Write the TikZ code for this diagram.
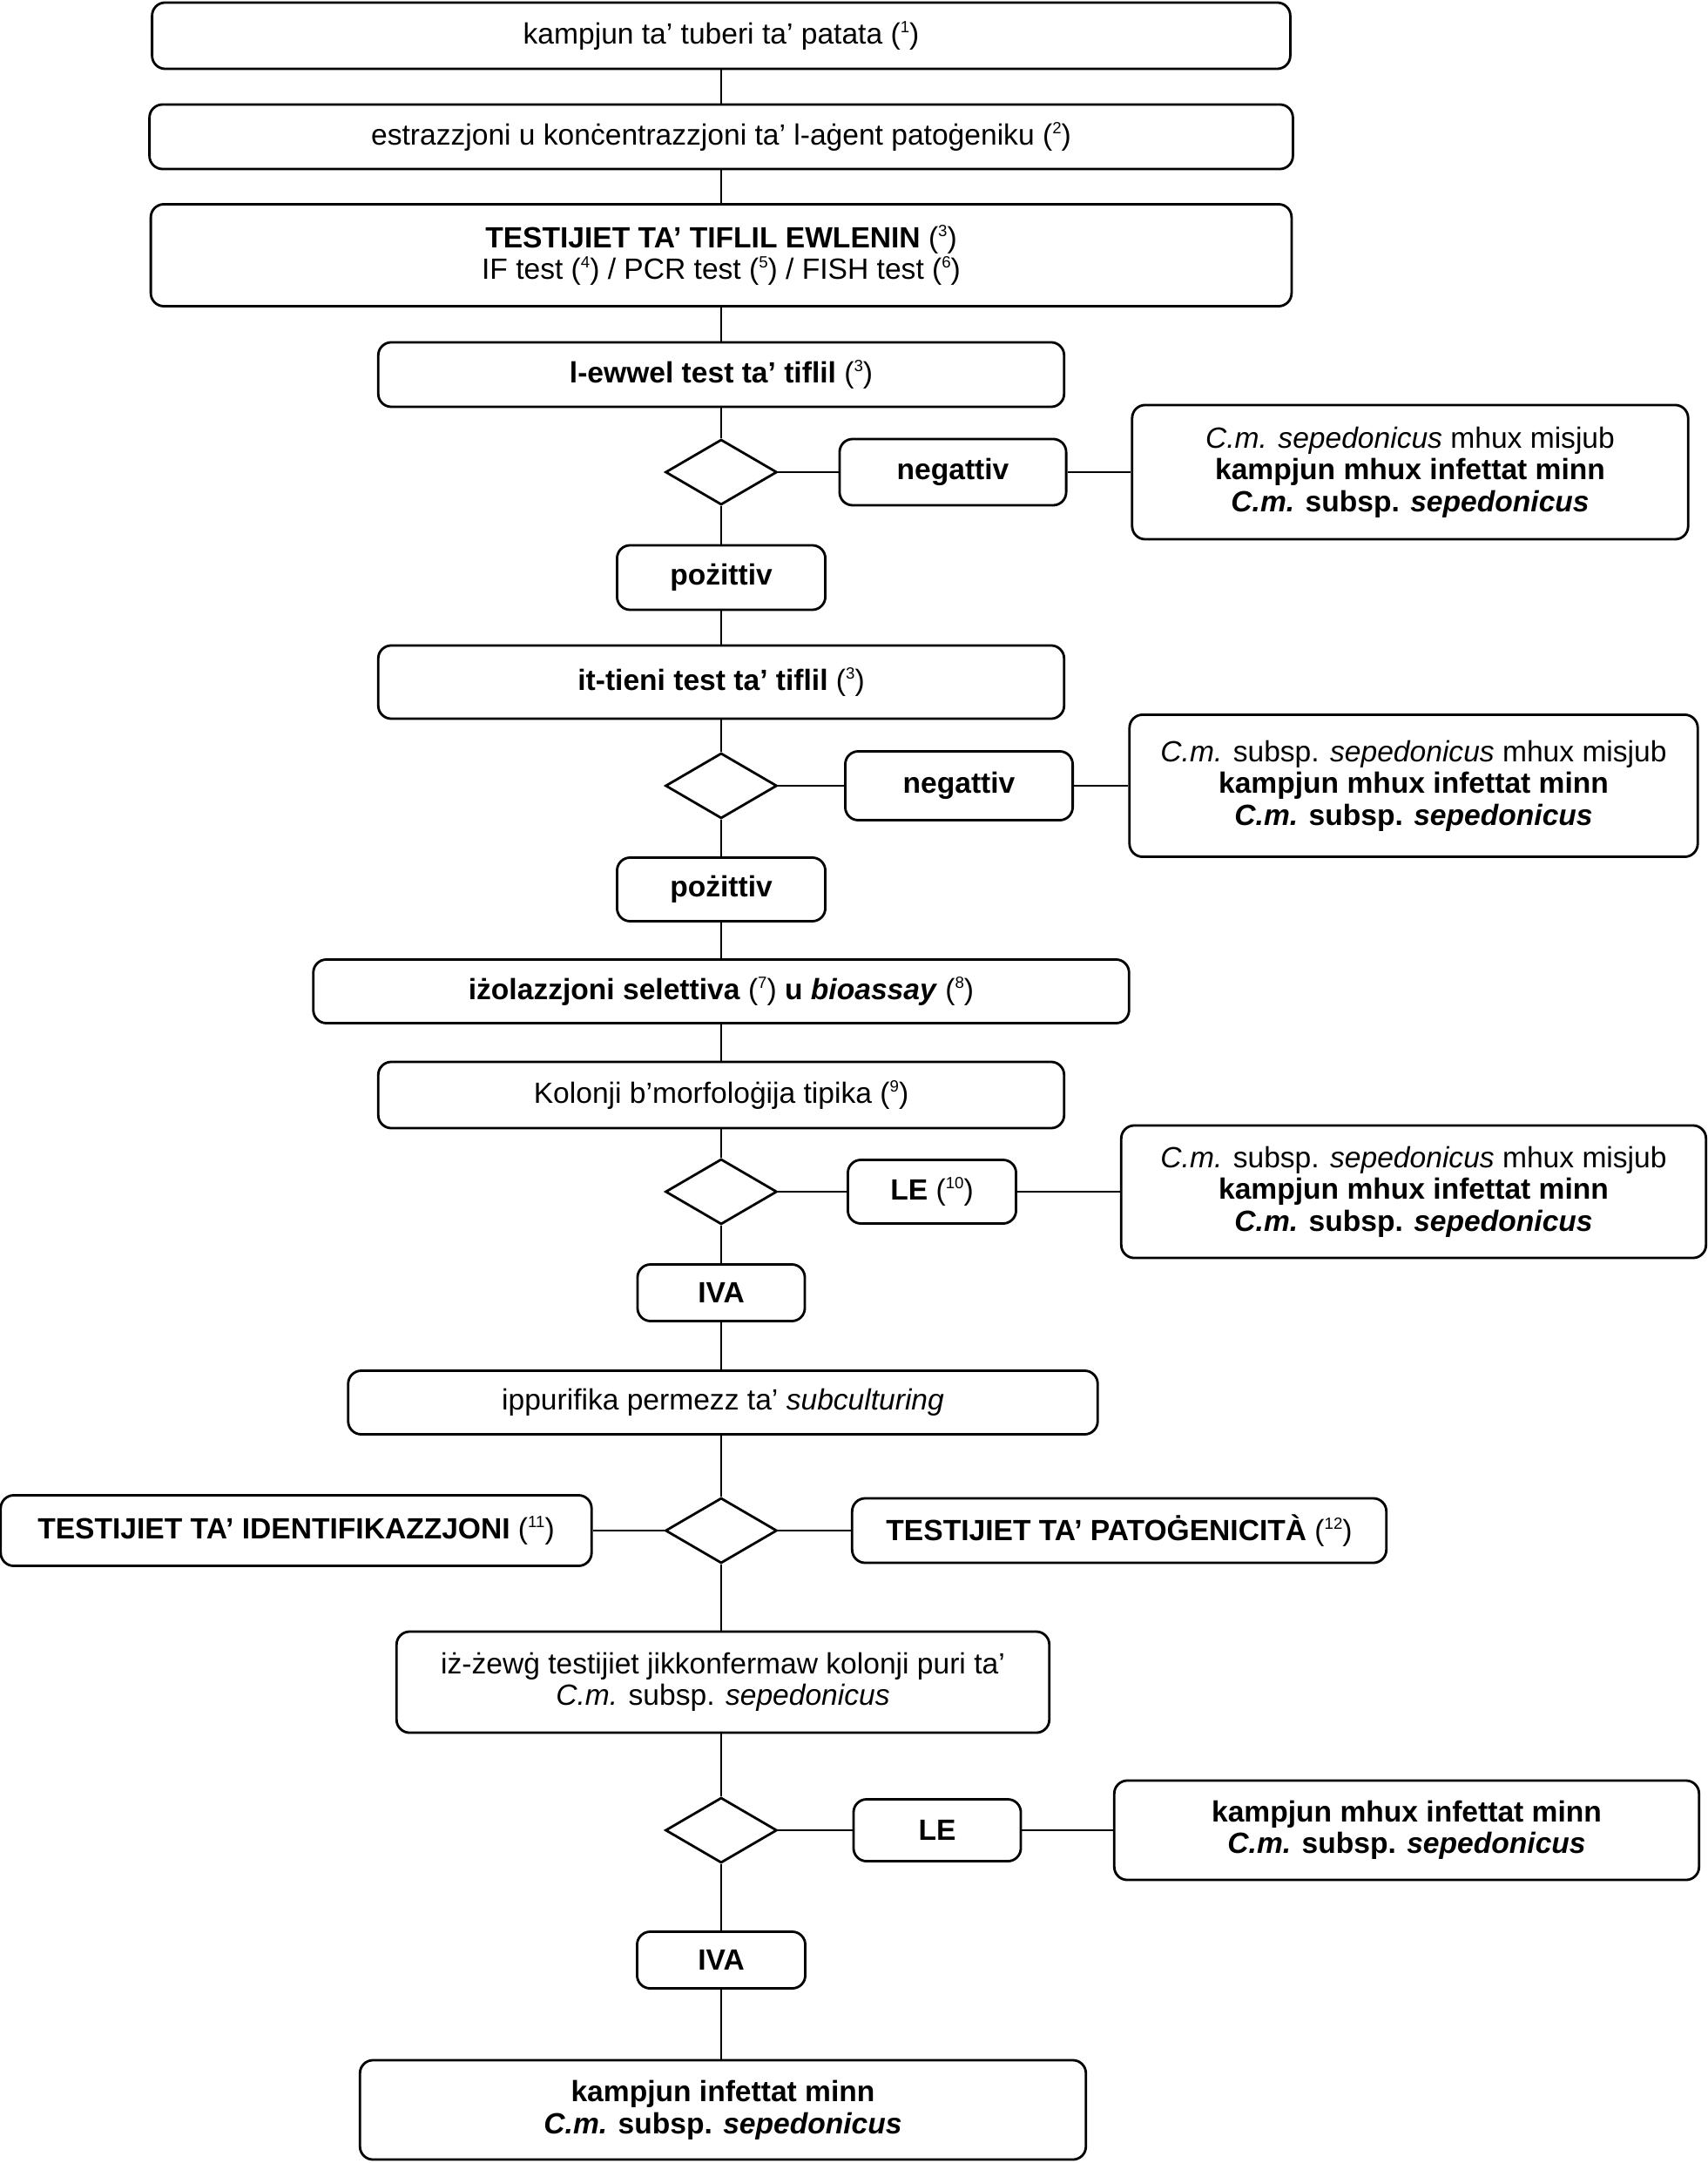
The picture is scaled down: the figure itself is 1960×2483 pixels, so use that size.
\documentclass[tikz,border=0pt]{standalone}
\usepackage{fontspec}
\setmainfont{Liberation Sans}
\usepackage{tikz}
\usetikzlibrary{shapes.geometric}
\newcommand{\boxfont}{\fontsize{9.55}{10.4}\selectfont}
\newcommand{\fn}[1]{(\raisebox{0.75ex}{\fontsize{5.3}{6}\selectfont\mdseries\upshape #1})}

\begin{document}
\begin{tikzpicture}[x=0.01cm, y=-0.01cm,
  flowbox/.style={draw, rectangle, rounded corners=0.15cm, line width=0.8pt, align=center, font=\boxfont, inner sep=2pt},
  decision/.style={draw, diamond, aspect=1.7, minimum width=1.28cm, minimum height=0.75cm, inner sep=0pt, line width=0.8pt},
  link/.style={line width=0.6pt}
]
\useasboundingbox (0,0) rectangle (1960,2483);
\node[flowbox, minimum width=13.06cm, minimum height=0.76cm] (sample) at (828,41) {kampjun ta’ tuberi ta’ patata \fn{1}};
\node[flowbox, minimum width=13.12cm, minimum height=0.74cm] (extract) at (828,157) {estrazzjoni u konċentrazzjoni ta’ l-aġent patoġeniku \fn{2}};
\node[flowbox, minimum width=13.09cm, minimum height=1.17cm] (screen) at (828,293) {\textbf{TESTIJIET TA’ TIFLIL EWLENIN} \fn{3}\\IF test \fn{4} / PCR test \fn{5} / FISH test \fn{6}};
\node[flowbox, minimum width=7.87cm, minimum height=0.74cm] (firsttest) at (828,430) {\textbf{l-ewwel test ta’ tiflil} \fn{3}};
\node[decision] (dec1) at (828,542) {};
\node[flowbox, minimum width=2.60cm, minimum height=0.76cm] (neg1) at (1094,542) {\textbf{negattiv}};
\node[flowbox, minimum width=6.38cm, minimum height=1.54cm] (nodet1) at (1619,542) {\textit{C.m. sepedonicus} mhux misjub\\\textbf{kampjun mhux infettat minn}\\\textbf{\textit{C.m.} subsp. \textit{sepedonicus}}};
\node[flowbox, minimum width=2.39cm, minimum height=0.74cm] (pos1) at (828,663) {\textbf{pożittiv}};
\node[flowbox, minimum width=7.87cm, minimum height=0.84cm] (secondtest) at (828,783) {\textbf{it-tieni test ta’ tiflil} \fn{3}};
\node[decision] (dec2) at (828,902) {};
\node[flowbox, minimum width=2.61cm, minimum height=0.79cm] (neg2) at (1101,902) {\textbf{negattiv}};
\node[flowbox, minimum width=6.52cm, minimum height=1.63cm] (nodet2) at (1623,902) {\textit{C.m.} subsp. \textit{sepedonicus} mhux misjub\\\textbf{kampjun mhux infettat minn}\\\textbf{\textit{C.m.} subsp. \textit{sepedonicus}}};
\node[flowbox, minimum width=2.39cm, minimum height=0.73cm] (pos2) at (828,1021) {\textbf{pożittiv}};
\node[flowbox, minimum width=9.36cm, minimum height=0.73cm] (isolate) at (828,1138) {\textbf{iżolazzjoni selettiva} \fn{7} \textbf{u \textit{bioassay}} \fn{8}};
\node[flowbox, minimum width=7.87cm, minimum height=0.76cm] (colony) at (828,1257) {Kolonji b’morfoloġija tipika \fn{9}};
\node[decision] (dec3) at (828,1368) {};
\node[flowbox, minimum width=1.93cm, minimum height=0.73cm] (le1) at (1070,1368) {\textbf{LE} \fn{10}};
\node[flowbox, minimum width=6.71cm, minimum height=1.52cm] (nodet3) at (1623,1368) {\textit{C.m.} subsp. \textit{sepedonicus} mhux misjub\\\textbf{kampjun mhux infettat minn}\\\textbf{\textit{C.m.} subsp. \textit{sepedonicus}}};
\node[flowbox, minimum width=1.92cm, minimum height=0.65cm] (iva1) at (828,1484) {\textbf{IVA}};
\node[flowbox, minimum width=8.60cm, minimum height=0.73cm] (purify) at (830,1610) {ippurifika permezz ta’ \textit{subculturing}};
\node[decision] (dec4) at (828,1757) {};
\node[flowbox, minimum width=6.78cm, minimum height=0.81cm] (ident) at (340,1757) {\textbf{TESTIJIET TA’ IDENTIFIKAZZJONI} \fn{11}};
\node[flowbox, minimum width=6.13cm, minimum height=0.74cm] (patho) at (1285,1757) {\textbf{TESTIJIET TA’ PATOĠENICITÀ} \fn{12}};
\node[flowbox, minimum width=7.49cm, minimum height=1.16cm] (confirm) at (830,1931) {iż-żewġ testijiet jikkonfermaw kolonji puri ta’\\\textit{C.m.} subsp. \textit{sepedonicus}};
\node[decision] (dec5) at (828,2101) {};
\node[flowbox, minimum width=1.92cm, minimum height=0.71cm] (le2) at (1076,2101) {\textbf{LE}};
\node[flowbox, minimum width=6.71cm, minimum height=1.14cm] (nodet4) at (1615,2101) {\textbf{kampjun mhux infettat minn}\\\textbf{\textit{C.m.} subsp. \textit{sepedonicus}}};
\node[flowbox, minimum width=1.93cm, minimum height=0.65cm] (iva2) at (828,2250) {\textbf{IVA}};
\node[flowbox, minimum width=8.33cm, minimum height=1.14cm] (infected) at (830,2422) {\textbf{kampjun infettat minn}\\\textbf{\textit{C.m.} subsp. \textit{sepedonicus}}};
\draw[link] (sample) -- (extract);
\draw[link] (extract) -- (screen);
\draw[link] (screen) -- (firsttest);
\draw[link] (firsttest) -- (dec1);
\draw[link] (dec1) -- (neg1);
\draw[link] (neg1) -- (nodet1);
\draw[link] (dec1) -- (pos1);
\draw[link] (pos1) -- (secondtest);
\draw[link] (secondtest) -- (dec2);
\draw[link] (dec2) -- (neg2);
\draw[link] (neg2) -- (nodet2);
\draw[link] (dec2) -- (pos2);
\draw[link] (pos2) -- (isolate);
\draw[link] (isolate) -- (colony);
\draw[link] (colony) -- (dec3);
\draw[link] (dec3) -- (le1);
\draw[link] (le1) -- (nodet3);
\draw[link] (dec3) -- (iva1);
\draw[link] (iva1) -- (iva1 |- purify.north);
\draw[link] (dec4 |- purify.south) -- (dec4);
\draw[link] (dec4) -- (ident);
\draw[link] (dec4) -- (patho);
\draw[link] (dec4) -- (dec4 |- confirm.north);
\draw[link] (dec5 |- confirm.south) -- (dec5);
\draw[link] (dec5) -- (le2);
\draw[link] (le2) -- (nodet4);
\draw[link] (dec5) -- (iva2);
\draw[link] (iva2) -- (iva2 |- infected.north);
\end{tikzpicture}
\end{document}
